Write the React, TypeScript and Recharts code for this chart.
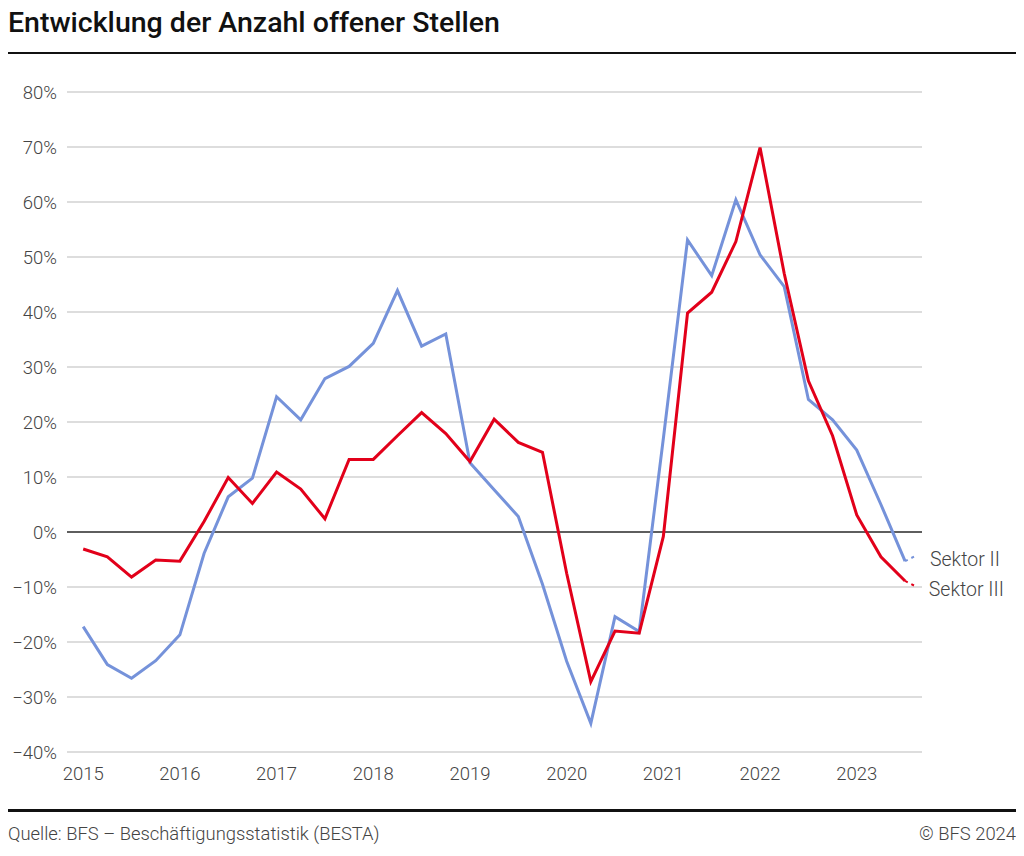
import { LineChart, Line, XAxis, YAxis, CartesianGrid, ReferenceLine } from "recharts";

// quarterly change vs. previous year, 2015 Q1 .. 2023 Q3
const years = ["2015", "2016", "2017", "2018", "2019", "2020", "2021", "2022", "2023"];

const sektor2 = [
  -17.2, -24.1, -26.6, -23.4,
  -18.7, -3.9, 6.4, 9.8,
  24.6, 20.4, 27.9, 30.1,
  34.3, 43.9, 33.8, 36.0,
  12.6, 7.7, 2.8, -9.5,
  -23.5, -34.8, -15.4, -18.1,
  17.0, 53.1, 46.6, 60.4,
  50.4, 44.6, 24.1, 20.4,
  14.9, 5.0, -5.3,
];

const sektor3 = [
  -3.1, -4.5, -8.2, -5.1,
  -5.3, 1.9, 9.9, 5.2,
  10.9, 7.8, 2.4, 13.2,
  13.2, 17.5, 21.7, 17.9,
  12.8, 20.5, 16.3, 14.5,
  -7.5, -27.2, -18.0, -18.4,
  -0.8, 39.8, 43.6, 52.8,
  69.9, 47.0, 27.5, 17.5,
  3.1, -4.5, -8.9,
];

// short dashed lead-outs from the last quarter towards the labels
const sektor2Lead = [
  { t: 34, v: -5.3 },
  { t: 34.45, v: -4.3 },
];
const sektor3Lead = [
  { t: 34, v: -8.9 },
  { t: 34.4, v: -9.8 },
];

const yTicks = [-40, -30, -20, -10, 0, 10, 20, 30, 40, 50, 60, 70, 80];

const rows = sektor2.map((v, i) => ({ t: i, s2: v, s3: sektor3[i] }));

const BLUE = "#7592DA";
const RED = "#E2001A";
const FONT = "Roboto, 'Noto Sans', sans-serif";
const TEXT = "#444";

const fmtPct = (v: number) => (v < 0 ? `\u2212${Math.abs(v)}%` : `${v}%`);

function endLabel(text: string, count: number) {
  return (props: any) => {
    if (props.index !== count - 1) return null;
    return (
      <text
        key={text}
        x={props.x + 14}
        y={props.y + 10}
        fontSize={19.5}
        fontWeight={300}
        fontFamily={FONT}
        fill={TEXT}
      >
        {text}
      </text>
    );
  };
}

export default function App() {
  return (
    <div style={{ position: "relative", width: 1008, height: 840, fontFamily: FONT }}>
      <div
        style={{
          position: "absolute",
          left: 0,
          top: 1,
          fontSize: 28.5,
          lineHeight: 1,
          fontWeight: 500,
          color: "#111",
          whiteSpace: "nowrap",
        }}
      >
        Entwicklung der Anzahl offener Stellen
      </div>
      <div style={{ position: "absolute", left: 0, top: 44, width: 1008, height: 2, background: "#111" }} />

      <div style={{ position: "absolute", left: 0, top: 60 }}>
        <LineChart width={1008} height={720} data={rows} margin={{ top: 24, right: 94, left: 0, bottom: 6 }}>
          <CartesianGrid horizontal vertical={false} stroke="#d2d2d2" strokeWidth={1.5} />
          <XAxis
            type="number"
            dataKey="t"
            domain={[-0.67, 34.7]}
            ticks={[0, 4, 8, 12, 16, 20, 24, 28, 32]}
            tickFormatter={(t: number) => years[t / 4]}
            axisLine={false}
            tickLine={false}
            tickMargin={9}
            height={30}
            tick={{ fontSize: 18.5, fill: TEXT, fontFamily: FONT, fontWeight: 300 }}
          />
          <YAxis
            domain={[-40, 80]}
            ticks={yTicks}
            tickFormatter={fmtPct}
            axisLine={false}
            tickLine={false}
            tickMargin={4}
            width={59}
            tick={{ fontSize: 18.5, fill: TEXT, fontFamily: FONT, fontWeight: 300 }}
          />
          <ReferenceLine y={0} stroke="#333" strokeWidth={1.5} />
          <Line dataKey="s2" stroke={BLUE} strokeWidth={3} dot={false} isAnimationActive={false} />
          <Line dataKey="s3" stroke={RED} strokeWidth={3} dot={false} isAnimationActive={false} />
          <Line
            data={sektor2Lead}
            dataKey="v"
            stroke={BLUE}
            strokeWidth={2}
            strokeDasharray="3 4"
            dot={false}
            isAnimationActive={false}
            label={endLabel("Sektor II", sektor2Lead.length)}
          />
          <Line
            data={sektor3Lead}
            dataKey="v"
            stroke={RED}
            strokeWidth={2}
            strokeDasharray="3 4"
            dot={false}
            isAnimationActive={false}
            label={endLabel("Sektor III", sektor3Lead.length)}
          />
        </LineChart>
      </div>

      <div style={{ position: "absolute", left: 0, top: 801, width: 1008, height: 2.5, background: "#111" }} />
      <div
        style={{
          position: "absolute",
          left: 0,
          top: 816.5,
          fontSize: 18.4,
          lineHeight: 1,
          fontWeight: 300,
          color: TEXT,
          whiteSpace: "nowrap",
        }}
      >
        Quelle: BFS – Beschäftigungsstatistik (BESTA)
      </div>
      <div
        style={{
          position: "absolute",
          right: 0,
          top: 816.5,
          fontSize: 18.4,
          lineHeight: 1,
          fontWeight: 300,
          color: TEXT,
          whiteSpace: "nowrap",
        }}
      >
        © BFS 2024
      </div>
    </div>
  );
}
